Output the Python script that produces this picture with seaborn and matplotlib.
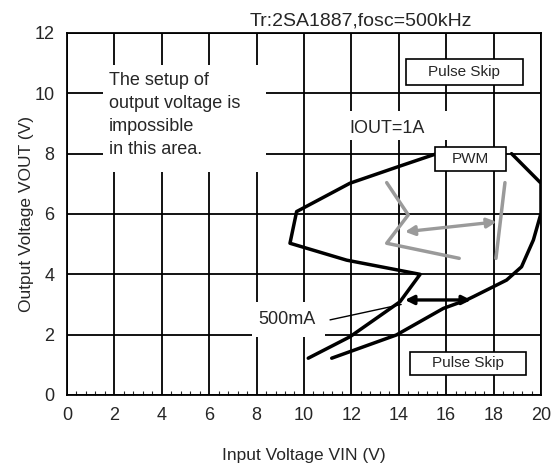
import numpy as np
import pandas as pd
import seaborn as sns
import matplotlib.pyplot as plt
from matplotlib.patches import Rectangle
from matplotlib.ticker import MultipleLocator

# boundary curves (VIN, VOUT)
left_vin = [15.6, 13.98, 11.94, 9.69, 9.41, 11.8, 14.9, 14.05, 11.94, 10.18]
left_vout = [8.0, 7.57, 7.02, 6.08, 5.03, 4.47, 4.0, 3.09, 1.93, 1.22]
right_vin = [11.17, 13.9, 15.88, 16.86, 17.15, 18.55, 19.18, 19.68, 20.0, 20.0, 18.76]
right_vout = [1.22, 1.99, 2.87, 3.15, 3.26, 3.81, 4.25, 5.14, 6.02, 7.02, 8.0]

# grey marks
zig_vin = [13.49, 14.4, 13.49, 16.55]
zig_vout = [7.04, 5.97, 5.03, 4.53]
bar_vin = [18.48, 18.1]
bar_vout = [7.04, 4.53]
grey_arrow = [(14.26, 5.41), (18.13, 5.74)]
black_arrow = [(14.26, 3.15), (17.05, 3.15)]
leader = [(11.1, 2.49), (14.1, 3.0)]

xticks = list(range(0, 21, 2))
yticks = list(range(0, 13, 2))

sns.set_style("white")
plt.rcParams['font.family'] = ['Liberation Sans', 'DejaVu Sans']

fig = plt.figure(figsize=(5.58, 4.68), dpi=100)
ax = fig.add_axes([0.120, 0.156, 0.8495, 0.7735])

df_left = pd.DataFrame({'vin': left_vin, 'vout': left_vout})
df_right = pd.DataFrame({'vin': right_vin, 'vout': right_vout})
kw = dict(sort=False, estimator=None, lw=2.5, ax=ax)
sns.lineplot(data=df_left, x='vin', y='vout', color='black', zorder=5, **kw)
sns.lineplot(data=df_right, x='vin', y='vout', color='black', zorder=5, **kw)
sns.lineplot(x=zig_vin, y=zig_vout, color='#9a9a9a', zorder=4, **kw)
sns.lineplot(x=bar_vin, y=bar_vout, color='#9a9a9a', zorder=4, **kw)

ax.annotate('', xy=grey_arrow[0], xytext=grey_arrow[1],
            arrowprops=dict(arrowstyle='<|-|>', color='#9a9a9a', lw=2.4,
                            mutation_scale=14, shrinkA=0, shrinkB=0), zorder=4)
ax.annotate('', xy=black_arrow[0], xytext=black_arrow[1],
            arrowprops=dict(arrowstyle='<|-|>', color='black', lw=2.4,
                            mutation_scale=13, shrinkA=0, shrinkB=0), zorder=5)
ax.annotate('', xy=leader[1], xytext=leader[0],
            arrowprops=dict(arrowstyle='-', color='black', lw=1.0,
                            shrinkA=0, shrinkB=0), zorder=5)

ax.set_xlim(0, 20)
ax.set_ylim(0, 12)
ax.set_xticks(xticks)
ax.set_yticks(yticks)
ax.xaxis.set_minor_locator(MultipleLocator(0.4))
ax.grid(True, which='major', color='black', lw=1.3)
ax.set_axisbelow(True)
ax.tick_params(which='major', length=0, labelsize=13, pad=9)
ax.tick_params(axis='x', which='minor', direction='in', length=3, width=0.8, bottom=True)
for s in ax.spines.values():
    s.set_color('black')
    s.set_linewidth(1.3)

ax.set_xlabel('Input Voltage VIN (V)', fontsize=12.5, labelpad=17)
ax.set_ylabel('Output Voltage VOUT (V)', fontsize=12.5, labelpad=0)

# white masks behind the notes
for (x0, y0, w, h) in [(1.5, 7.4, 6.9, 3.54), (11.9, 8.45, 4.6, 0.97), (7.8, 1.93, 3.1, 1.15)]:
    ax.add_patch(Rectangle((x0, y0), w, h, facecolor='white', edgecolor='none', zorder=2))

# framed region labels
for (x0, y0, w, h, s) in [(14.3, 10.27, 4.93, 0.86, 'Pulse Skip'),
                          (14.47, 0.66, 4.88, 0.78, 'Pulse Skip'),
                          (15.53, 7.43, 2.99, 0.8, 'PWM')]:
    ax.add_patch(Rectangle((x0, y0), w, h, facecolor='white', edgecolor='black', lw=1.2, zorder=6))
    ax.text(x0 + w / 2, y0 + h / 2, s, ha='center', va='center', fontsize=11, zorder=7)

ax.text(1.78, 10.7, 'The setup of\noutput voltage is\nimpossible\nin this area.',
        ha='left', va='top', fontsize=13, linespacing=1.45, zorder=3)
ax.text(13.5, 8.84, 'IOUT=1A', ha='center', va='center', fontsize=13, zorder=3)
ax.text(9.3, 2.49, '500mA', ha='center', va='center', fontsize=13, zorder=3)
ax.text(12.4, 12.26, 'Tr:2SA1887,fosc=500kHz', ha='center', va='baseline',
        fontsize=14, clip_on=False)

fig.savefig('out.png', dpi=100)
